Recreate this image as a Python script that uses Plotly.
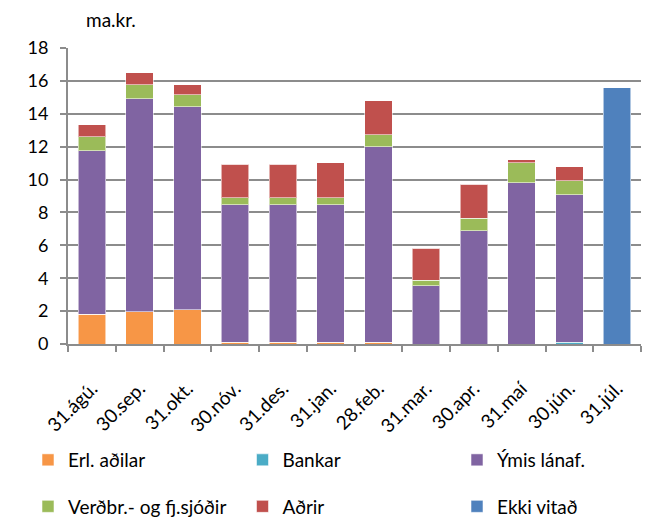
import plotly.graph_objects as go

# Month-end dates on the category axis
categories = ["31.ágú.", "30.sep.", "31.okt.", "30.nóv.", "31.des.", "31.jan.",
              "28.feb.", "31.mar.", "30.apr.", "31.maí", "30.jún.", "31.júl."]

# Holdings by holder group, ma.kr.
erl_adilar = [1.82, 1.97, 2.09, 0.12, 0.12, 0.12, 0.12, 0.0, 0.0, 0.0, 0.0, 0.0]
bankar = [0.0, 0.0, 0.0, 0.0, 0.0, 0.0, 0.0, 0.0, 0.0, 0.0, 0.12, 0.0]
ymis_lanaf = [9.94, 12.95, 12.35, 8.35, 8.35, 8.35, 11.88, 3.53, 6.89, 9.81, 8.96, 0.0]
verdbr_sjodir = [0.85, 0.86, 0.73, 0.41, 0.41, 0.41, 0.73, 0.36, 0.77, 1.22, 0.85, 0.0]
adrir = [0.73, 0.72, 0.61, 2.05, 2.05, 2.15, 2.07, 1.93, 2.05, 0.16, 0.85, 0.0]
ekki_vitad = [0.0] * 11 + [15.57]

y_ticks = [0, 2, 4, 6, 8, 10, 12, 14, 16, 18]

series = [
    ("Erl. aðilar", erl_adilar, "#F79646"),
    ("Bankar", bankar, "#4BACC6"),
    ("Ýmis lánaf.", ymis_lanaf, "#8064A2"),
    ("Verðbr.- og fj.sjóðir", verdbr_sjodir, "#9BBB59"),
    ("Aðrir", adrir, "#C0504D"),
    ("Ekki vitað", ekki_vitad, "#4F81BD"),
]

FONT = "Lato"
fig = go.Figure()
legend_ids = ["legend", "legend2", "legend3", "legend4", "legend5", "legend6"]
for (name, vals, color), lid in zip(series, legend_ids):
    fig.add_trace(go.Bar(
        x=categories, y=vals, name=name,
        marker=dict(color=color, line=dict(color="rgba(255,255,255,0.55)", width=1)),
        legend=lid,
    ))

# One legend box per entry: 3 columns x 2 rows under the plot
col_x = [28 / 649, 242.5 / 649, 457 / 649]
row_y = [(520 - 460) / 520, (520 - 506.5) / 520]
legend_layout = {}
for i, lid in enumerate(legend_ids):
    legend_layout[lid] = dict(
        x=col_x[i % 3], y=row_y[i // 3], xref="container", yref="container",
        xanchor="left", yanchor="middle",
        orientation="h", bgcolor="rgba(0,0,0,0)",
        font=dict(family=FONT, size=19, color="#000000"),
    )

fig.update_layout(
    width=649, height=520,
    margin=dict(l=68, r=8, t=48, b=176, autoexpand=False),
    plot_bgcolor="#FFFFFF", paper_bgcolor="#FFFFFF",
    barmode="stack", bargap=0.42,
    font=dict(family=FONT, size=18, color="#000000"),
    showlegend=True,
    **legend_layout,
)

fig.update_xaxes(
    type="category", tickangle=-45,
    showline=True, linecolor="#8C8C8C", linewidth=2,
    ticks="outside", tickson="boundaries", ticklen=6, tickcolor="#8C8C8C", tickwidth=2,
    showgrid=False,
    ticklabelstandoff=24,
    tickfont=dict(family=FONT, size=19, color="#000000"),
)
fig.update_yaxes(
    range=[0, 18], tickvals=y_ticks,
    showline=True, linecolor="#8C8C8C", linewidth=2,
    ticks="outside", ticklen=6, tickcolor="#8C8C8C", tickwidth=2,
    showgrid=True, gridcolor="#8C8C8C", gridwidth=2,
    zeroline=False,
    ticklabelstandoff=8,
    tickfont=dict(family=FONT, size=18, color="#000000"),
)

fig.add_annotation(
    text="ma.kr.", xref="paper", yref="paper", x=0.075, y=1.095,
    xanchor="center", yanchor="middle", showarrow=False,
    font=dict(family=FONT, size=19, color="#000000"),
)

fig.write_html("out.html")
